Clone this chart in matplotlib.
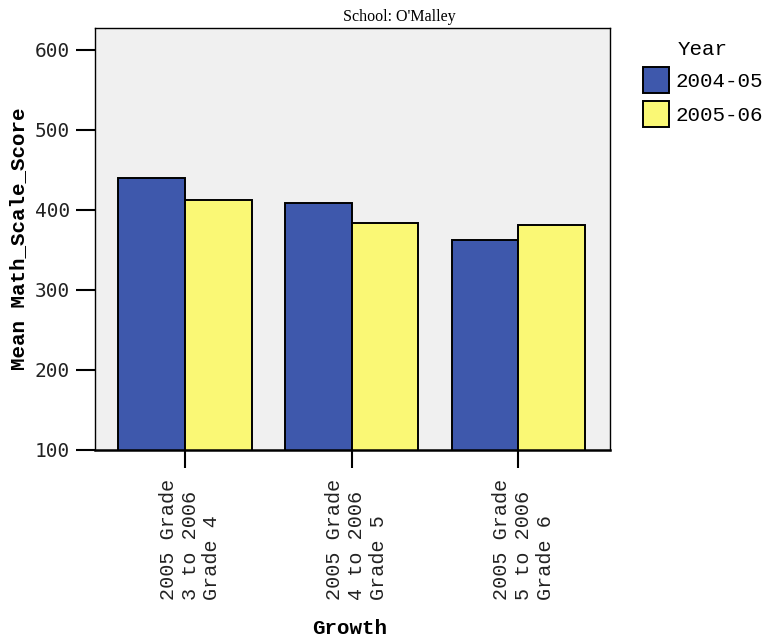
import matplotlib.pyplot as plt
import numpy as np
from matplotlib.patches import Patch

groups = ["2005 Grade\n3 to 2006\nGrade 4",
          "2005 Grade\n4 to 2006\nGrade 5",
          "2005 Grade\n5 to 2006\nGrade 6"]
years = ["2004-05", "2005-06"]
scores_0405 = [439.5, 408.5, 362.5]
scores_0506 = [412.5, 383.5, 381.5]
colors = ["#3E58AC", "#FAF875"]

mono = "Liberation Mono"

fig = plt.figure(figsize=(7.67, 6.38), dpi=100)
ax = fig.add_axes([0.1239, 0.2947, 0.6714, 0.6614])
ax.set_facecolor("#F0F0F0")

x = np.arange(len(groups))
w = 0.4
ax.bar(x - w / 2, scores_0405, w, bottom=0, color=colors[0], edgecolor="black", linewidth=1.4)
ax.bar(x + w / 2, scores_0506, w, bottom=0, color=colors[1], edgecolor="black", linewidth=1.4)

ax.set_xlim(-0.54, 2.55)
ax.set_ylim(100, 627)
ax.set_yticks([100, 200, 300, 400, 500, 600])
# major ticks carry the marks, minor ticks (nudged a little right) carry the labels
ax.set_xticks(x)
ax.set_xticklabels([])
ax.set_xticks(x + 0.03, minor=True)
ax.set_xticklabels(groups, minor=True, rotation=90, fontfamily=mono, fontsize=14.5, linespacing=1.18,
                   va="top", ha="center", multialignment="left", color="#222222")
for lab in ax.get_yticklabels():
    lab.set_fontfamily("DejaVu Sans Mono")
    lab.set_fontsize(14)
    lab.set_color("#222222")
ax.tick_params(axis="y", length=14, width=1.5, pad=4)
ax.tick_params(axis="x", which="major", length=13, width=1.5)
ax.tick_params(axis="x", which="minor", length=0, pad=21)
for s in ax.spines.values():
    s.set_linewidth(1.0)
ax.spines["bottom"].set_linewidth(1.8)

ax.set_ylabel("Mean Math_Scale_Score", fontfamily=mono, fontsize=15, fontweight="bold", labelpad=5)
fig.text(0.456, 0.0, "Growth", fontfamily=mono, fontsize=15, fontweight="bold", ha="center", va="bottom")
fig.text(0.521, 0.973, "School: O'Malley", fontfamily="Liberation Serif", fontsize=11.5, ha="center", va="center")

handles = [Patch(facecolor=c, edgecolor="black", linewidth=1.4, label=l) for c, l in zip(colors, years)]
leg = fig.legend(handles=handles, title="Year", loc="upper left", bbox_to_anchor=(0.838, 0.938),
                 frameon=False, prop={"family": mono, "size": 15}, title_fontproperties={"family": mono, "size": 15},
                 handlelength=1.25, handleheight=1.5, handletextpad=0.3, labelspacing=0.42,
                 borderaxespad=0, borderpad=0)

fig.savefig("out.png", dpi=100)
